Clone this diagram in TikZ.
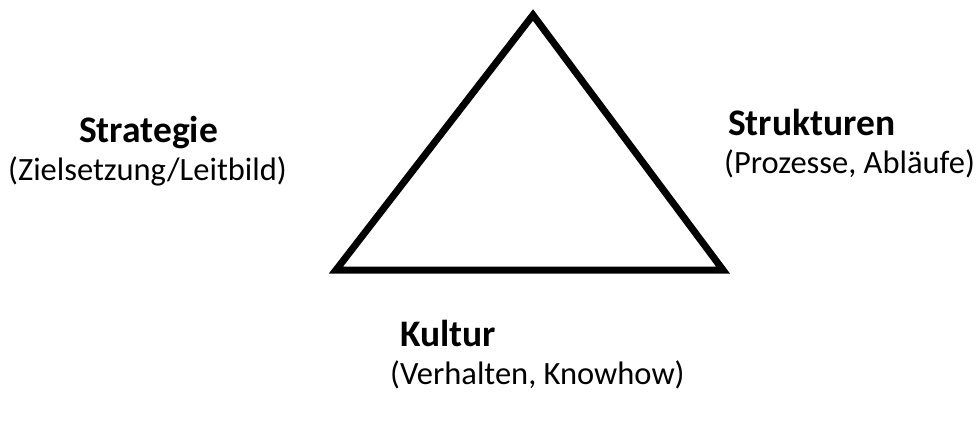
\documentclass[tikz,border=0pt]{standalone}
\usepackage{fontspec}
\setmainfont{Carlito}
\begin{document}
\begin{tikzpicture}[x=1pt,y=-1pt,
  lbl/.style={anchor=base west,inner sep=0pt,font=\fontsize{32.5}{38}\selectfont},
  lblb/.style={lbl,font=\fontsize{37.5}{44}\selectfont\bfseries},
  tri/.style={line width=7pt,line join=miter}]
\useasboundingbox (0,0) rectangle (979,423);
\coordinate (top) at (533,15);
\coordinate (bl) at (336,270);
\coordinate (br) at (723,270);
\draw[tri] (top) -- (br) -- (bl) -- cycle;
\node[lblb] (s1) at (79,142) {Strategie};
\node[lbl] (s2) at (8,180) {(Zielsetzung/Leitbild)};
\node[lblb] (t1) at (728,135) {Strukturen};
\node[lbl] (t2) at (724,173) {(Prozesse, Abläufe)};
\node[lblb] (k1) at (400,346) {Kultur};
\node[lbl] (k2) at (390,384) {(Verhalten, Knowhow)};
\end{tikzpicture}
\end{document}
